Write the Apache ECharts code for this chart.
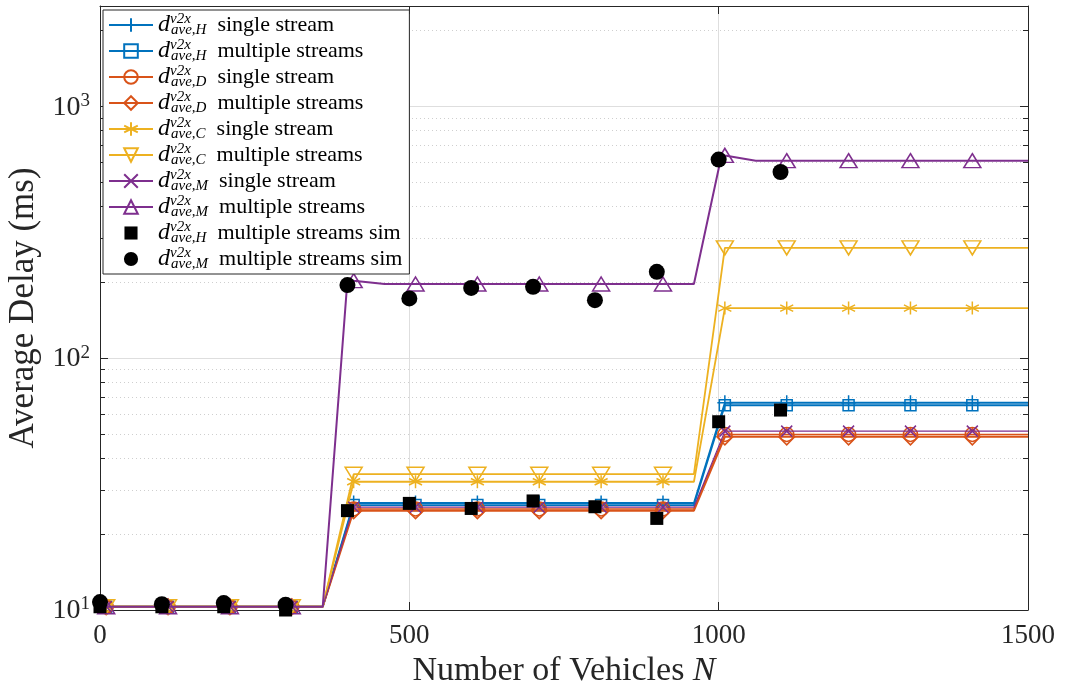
<!DOCTYPE html>
<html>
<head>
<meta charset="utf-8">
<script src="https://cdn.jsdelivr.net/npm/echarts@6/dist/echarts.min.js"></script>
<style>html,body{margin:0;padding:0;background:#fff;}#c{width:1069px;height:691px;}</style>
</head>
<body>
<div id="c"></div>
<script>
// ---------- data ----------
const N_theory = [0,10,110,210,310,360,410,510,610,710,810,910,960,1010,1110,1210,1310,1410,1500];
const H_single = [10.3,10.3,10.3,10.3,10.3,10.3, 26.6,26.6,26.6,26.6,26.6,26.6,26.6, 66.5,66.5,66.5,66.5,66.5,66.5];
const H_multi  = [10.3,10.3,10.3,10.3,10.3,10.3, 26.1,26.1,26.1,26.1,26.1,26.1,26.1, 65.0,65.0,65.0,65.0,65.0,65.0];
const D_single = [10.3,10.3,10.3,10.3,10.3,10.3, 25.2,25.2,25.2,25.2,25.2,25.2,25.2, 49.8,49.8,49.8,49.8,49.8,49.8];
const D_multi  = [10.3,10.3,10.3,10.3,10.3,10.3, 24.8,24.8,24.8,24.8,24.8,24.8,24.8, 48.7,48.7,48.7,48.7,48.7,48.7];
const C_single = [10.3,10.3,10.3,10.3,10.3,10.3, 32.3,32.3,32.3,32.3,32.3,32.3,32.3, 158,158,158,158,158,158];
const C_multi  = [10.3,10.3,10.3,10.3,10.3,10.3, 34.6,34.6,34.6,34.6,34.6,34.6,34.6, 274,274,274,274,274,274];
const M_single = [10.3,10.3,10.3,10.3,10.3,10.3, 25.6,25.6,25.6,25.6,25.6,25.6,25.6, 51.3,51.3,51.3,51.3,51.3,51.3];
const N_M      = [0,10,110,210,310,360,400,410,460,510,610,710,810,910,960,1005,1010,1060,1110,1210,1310,1410,1500];
const M_multi  = [10.3,10.3,10.3,10.3,10.3,10.3, 205,203, 197,197,197,197,197,197,197, 645,638,608, 608,608,608,608,608];
const N_sim    = [0,100,200,300,400,500,600,700,800,900,1000,1100];
const H_sim    = [10.3,10.3,10.3,10.0,24.8,26.5,25.3,27.1,25.7,23.1,55.9,62.2];
const M_sim    = [10.75,10.55,10.65,10.5,195,172.6,190,191.8,169.9,220,614,548];
const yMinor   = [20,30,40,50,60,70,80,90,200,300,400,500,600,700,800,900,2000];
const legendSub  = ['H','H','D','D','C','C','M','M','H','M'];
const legendDesc = ['single stream','multiple streams','single stream','multiple streams','single stream','multiple streams','single stream','multiple streams','multiple streams sim','multiple streams sim'];
// ---------------------------------------------------

const F = 'Liberation Serif';
const AX = '#262626';
const BLUE='#0072BD', ORANGE='#D95319', YELLOW='#EDB120', PURPLE='#7E2F8E';
const PLUS='path://M5 0L5 10M0 5L10 5';
const CROSS='path://M0 0L10 10M10 0L0 10';
const STAR='path://M5 0L5 10M0.67 2.5L9.33 7.5M9.33 2.5L0.67 7.5';
const SQ_ICON='path://M-1.5 -1.5M0 0L10 0L10 10L0 10Z M11.5 11.5';
const CI_ICON='path://M-1 -1M5 0A5 5 0 1 1 5 10A5 5 0 1 1 5 0Z M11 11';

function pts(xs, ys){
  return xs.map((n,i)=>{
    const item = {value:[n, ys[i]]};
    if (n % 100 !== 10) item.symbol = 'none';
    return item;
  });
}
function theory(idx, xs, ys, color, symbol, size, lw, rotate){
  return {
    name: 's'+idx, type:'line', data: pts(xs, ys),
    symbol: symbol, symbolSize: size, symbolRotate: rotate||0,
    showAllSymbol: true, color: color,
    lineStyle:{color: color, width: lw},
    itemStyle:{color:'rgba(0,0,0,0)', borderColor: color, borderWidth: 1.5},
    emphasis:{disabled:true}, z: 2+idx*0.01
  };
}

const series = [
  theory(0, N_theory, H_single, BLUE, PLUS, 15, 1.8),
  theory(1, N_theory, H_multi, BLUE, 'rect', 11, 1.8),
  theory(2, N_theory, D_single, ORANGE, 'circle', 14, 1.5),
  theory(3, N_theory, D_multi, ORANGE, 'diamond', 16, 2),
  theory(4, N_theory, C_single, YELLOW, STAR, 13, 1.8),
  theory(5, N_theory, C_multi, YELLOW, 'triangle', [17,14], 1.8, 180),
  theory(6, N_theory, M_single, PURPLE, CROSS, 11, 1.2),
  theory(7, N_M, M_multi, PURPLE, 'triangle', [17,14], 2),
  {name:'s8', type:'scatter', data: N_sim.map((n,i)=>[n,H_sim[i]]), symbol:'rect', symbolSize:13,
   itemStyle:{color:'#000', opacity:1}, emphasis:{disabled:true}, z:3},
  {name:'s9', type:'scatter', data: N_sim.map((n,i)=>[n,M_sim[i]]), symbol:'circle', symbolSize:16,
   itemStyle:{color:'#000', opacity:1}, emphasis:{disabled:true}, z:3}
];

const yBase = {type:'log', min:10, max:2500, logBase:10};
const option = {
  animation:false,
  backgroundColor:'#fff',
  grid:{left:100, right:41, top:6, bottom:81, containLabel:false, outerBoundsMode:'none'},
  xAxis:[
    {type:'value', min:0, max:1500, interval:500, position:'bottom',
     name:'Number of Vehicles {i|N}', nameLocation:'middle', nameGap:36,
     nameTextStyle:{fontFamily:F, fontSize:34, color:AX, rich:{i:{fontFamily:F, fontStyle:'italic', fontSize:34, color:AX}}},
     axisLine:{show:true, lineStyle:{color:AX, width:1}},
     axisTick:{show:true, inside:true, length:8, lineStyle:{color:AX}},
     axisLabel:{fontFamily:F, fontSize:27, color:AX, margin:12, formatter:(v)=>String(v)},
     splitLine:{show:true, lineStyle:{color:'#dedede', width:1}}},
    {type:'value', min:0, max:1500, interval:500, position:'top',
     axisLine:{show:true, lineStyle:{color:AX, width:1}},
     axisTick:{show:true, inside:true, length:8, lineStyle:{color:AX}},
     axisLabel:{show:false}, splitLine:{show:false}}
  ],
  yAxis:[
    Object.assign({}, yBase, {position:'left',
     name:'Average Delay (ms)', nameLocation:'middle', nameGap:53, nameRotate:90,
     nameTextStyle:{fontFamily:F, fontSize:35, color:AX},
     axisLine:{show:true, lineStyle:{color:AX, width:1}},
     axisTick:{show:true, inside:true, length:8, lineStyle:{color:AX}},
     axisLabel:{showMaxLabel:false, margin:10, color:AX,
       formatter:(v)=>{const e=Math.round(Math.log10(v)); if (Math.abs(Math.log10(v)-e)>1e-6) return ''; return '{b|10}{s|'+e+'}';},
       rich:{b:{fontFamily:F, fontSize:28, color:AX, lineHeight:30, verticalAlign:'bottom'},
             s:{fontFamily:F, fontSize:19, color:AX, lineHeight:19, verticalAlign:'top'}}},
     splitLine:{show:true, lineStyle:{color:'#dedede', width:1}}}),
    Object.assign({}, yBase, {position:'left',
     axisLine:{show:false},
     axisTick:{show:true, inside:true, length:5, lineStyle:{color:AX}, customValues:yMinor},
     axisLabel:{show:false},
     splitLine:{show:true, lineStyle:{color:'#cfcfcf', width:1, type:[1,3]}}}),
    Object.assign({}, yBase, {position:'right',
     axisLine:{show:true, lineStyle:{color:AX, width:1}},
     axisTick:{show:true, inside:true, length:8, lineStyle:{color:AX}},
     axisLabel:{show:false}, splitLine:{show:false}}),
    Object.assign({}, yBase, {position:'right',
     axisLine:{show:false},
     axisTick:{show:true, inside:true, length:5, lineStyle:{color:AX}, customValues:yMinor},
     axisLabel:{show:false}, splitLine:{show:false}})
  ],
  legend:{
    show:true, orient:'vertical', left:103, top:10, itemGap:0, itemWidth:44, itemHeight:17,
    backgroundColor:'#fff', borderColor:AX, borderWidth:1, borderRadius:0, padding:[2,7,2,5],
    selectedMode:false,
    data: series.map((s,i)=> i===8 ? {name:s.name, icon:SQ_ICON} : (i===9 ? {name:s.name, icon:CI_ICON} : {name:s.name})),
    formatter:(name)=>{const i=+name.slice(1); return '{d|d}{sup|v2x}{sub|ave,'+legendSub[i]+'}{t|  '+legendDesc[i]+'}';},
    textStyle:{color:'#000', fontFamily:F, fontSize:22,
      rich:{
        d:{fontFamily:F, fontStyle:'italic', fontSize:24, lineHeight:26, color:'#000'},
        sup:{fontFamily:F, fontStyle:'italic', fontSize:15, lineHeight:13, verticalAlign:'top', width:1, color:'#000'},
        sub:{fontFamily:F, fontStyle:'italic', fontSize:15, lineHeight:13, verticalAlign:'bottom', color:'#000'},
        t:{fontFamily:F, fontSize:22, lineHeight:26, color:'#000'}
      }}
  },
  series: series
};
const chart = echarts.init(document.getElementById('c'), null, {renderer:'canvas'});
chart.setOption(option);
</script>
</body>
</html>
